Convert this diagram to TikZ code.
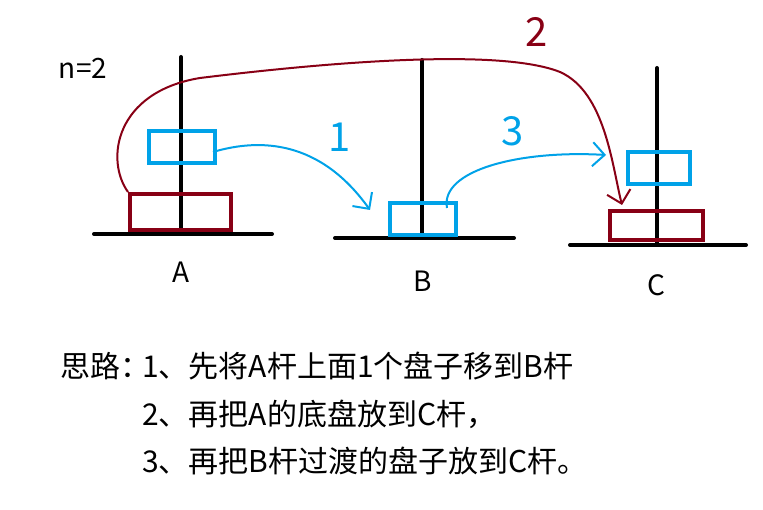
\documentclass[tikz,border=0pt]{standalone}
\usepackage{fontspec}
\setmainfont{Noto Sans CJK SC}
\usetikzlibrary{arrows.meta,positioning,calc}
\definecolor{diskred}{HTML}{880015}
\definecolor{diskblue}{HTML}{00A2E8}
\tikzset{
  rod/.style={line width=4pt,line cap=round},
  disc/.style={draw,line width=4pt,minimum width=#1,minimum height=32pt,inner sep=0pt},
  movearrow/.style={line width=2pt,-{Straight Barb[length=12pt,width=24pt,line width=2pt]}},
  pegname/.style={font=\fontsize{28}{32}\selectfont},
  hand/.style={font=\fontsize{40}{44}\selectfont\itshape},
  txt/.style={anchor=base west,inner sep=0pt,font=\fontsize{30}{35}\selectfont}
}
\begin{document}
\begin{tikzpicture}[x=1pt,y=-1pt]
\useasboundingbox (0,0) rectangle (763,510);
% rods and bases
\draw[rod] (181,57)--(181,234);\draw[rod] (94,234)--(272,234);
\draw[rod] (422,60)--(422,238);\draw[rod] (335,238)--(514,238);
\draw[rod] (657,68)--(657,245);\draw[rod] (570,245)--(746,245);
% discs
\node[disc=101pt,draw=diskred,minimum height=36pt] (redA) at (180.5,212) {};
\node[disc=66pt,draw=diskblue] (blueA) at (182,147) {};
\node[disc=66pt,draw=diskblue] (blueB) at (423,219) {};
\node[disc=62pt,draw=diskblue] (blueC) at (659,168) {};
\node[disc=93pt,draw=diskred,minimum height=29pt] (redC) at (656.5,225.5) {};
% labels
\node[pegname] (nA) at (181,272) {A};
\node[pegname] (nB) at (423,281) {B};
\node[pegname] (nC) at (656,285) {C};
\node[pegname] (num) at (83,68) {n=2};
% moves
\coordinate (tip1) at ($(blueB.west)+(-18,-9)$);
\coordinate (tip2) at ($(redC.north west)+(14,-4)$);
\coordinate (tip3) at ($(blueC.west)+(-20,-13)$);
\draw[movearrow,diskblue] ($(blueA.east)+(-4,5)$) .. controls (260,138) and (320,140) .. (tip1);
\draw[movearrow,diskred] (redA.north west) .. controls (105,160) and (115,92) .. (200,78)
  .. controls (330,62) and (500,48) .. (560,72) .. controls (605,92) and (612,165) .. (tip2);
\draw[movearrow,diskblue] ($(blueB.north east)+(-11,7)$) .. controls (440,170) and (520,150) .. (tip3);
\node[hand,diskblue] (m1) at (340,137) {1};
\node[hand,diskred] (m2) at (537,32) {2};
\node[hand,diskblue] (m3) at (513,131) {3};
% idea
\node[txt] (idea) at (60,378) {思路：};
\node[txt] (step1) at (142,378) {1、先将A杆上面1个盘子移到B杆};
\node[txt] (step2) at (142,425) {2、再把A的底盘放到C杆，};
\node[txt] (step3) at (142,472) {3、再把B杆过渡的盘子放到C杆。};
\end{tikzpicture}
\end{document}
